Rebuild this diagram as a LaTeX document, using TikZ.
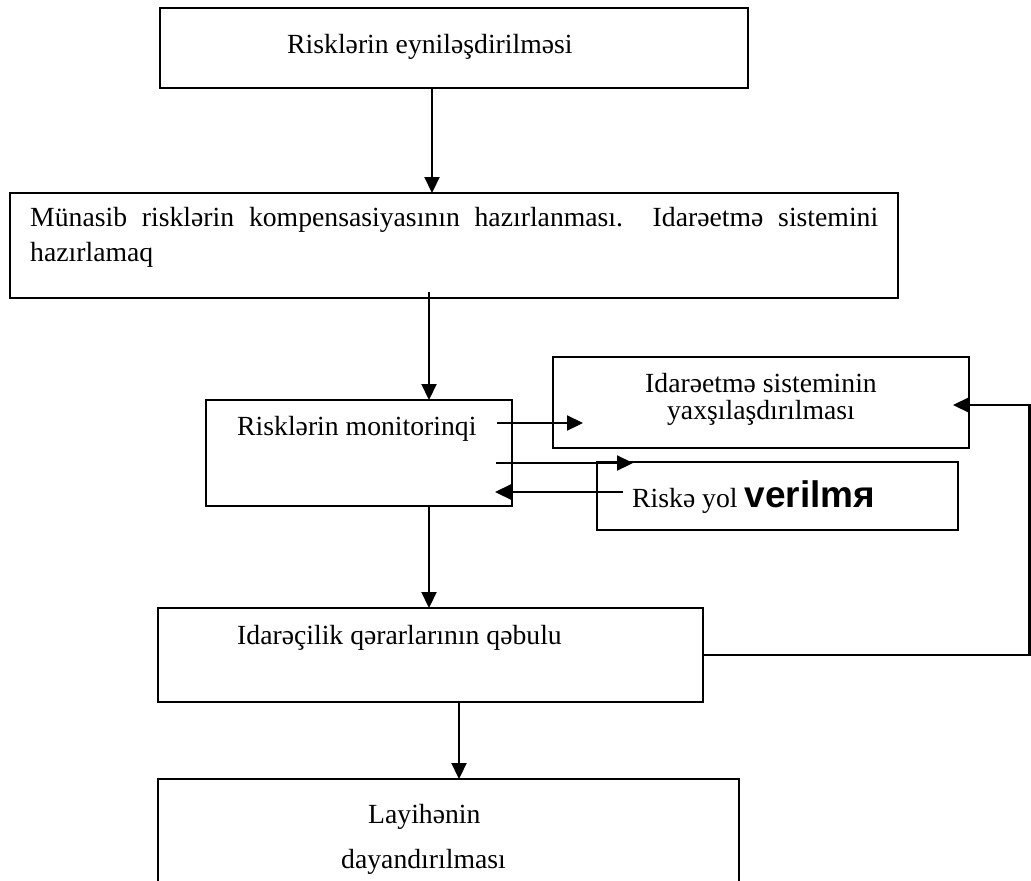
\documentclass[tikz,border=0pt]{standalone}
\usepackage{fontspec}
\setmainfont{Liberation Serif}
\newfontfamily\sansbold{Liberation Sans}
\usetikzlibrary{arrows.meta}
\begin{document}
\begin{tikzpicture}[x=1pt,y=-1pt,
  box/.style={draw=black, line width=2.2pt, rectangle, inner sep=0pt, outer sep=0pt},
  lbl/.style={inner sep=0pt, anchor=base west, font=\fontsize{27.7}{33}\selectfont},
  clbl/.style={inner sep=0pt, anchor=base, font=\fontsize{27.7}{33}\selectfont},
  arr/.style={line width=2.2pt, -{Triangle[length=16pt,width=15pt]}}]
\useasboundingbox (0,0) rectangle (1031,881);
\clip (0,0) rectangle (1031,881);
\fill[white] (0,0) rectangle (1031,881);

% boxes
\node[box, minimum width=588pt, minimum height=80pt]  (b1) at (454,48) {};
\node[box, minimum width=888pt, minimum height=105pt] (b2) at (454,245.5) {};
\node[box, minimum width=306pt, minimum height=106pt] (b3) at (359,453) {};
\node[box, minimum width=416pt, minimum height=91pt]  (b4) at (761,402.5) {};
\node[box, minimum width=361pt, minimum height=68pt]  (b5) at (777.5,496) {};
\node[box, minimum width=545pt, minimum height=94pt]  (b6) at (430.5,655) {};
\node[box, minimum width=581pt, minimum height=141pt] (b7) at (448.5,849.5) {};

% texts
\node[lbl] (t1) at (287,53) {Risklərin eyniləşdirilməsi};
\node[lbl] (t2a) at (30,226) {\makebox[848pt][s]{Münasib risklərin kompensasiyasının hazırlanması.\ \ Idarəetmə sistemini}};
\node[lbl] (t2b) at (30,261) {hazırlamaq};
\node[lbl] (t3) at (237,435) {Risklərin monitorinqi};
\node[clbl] (t4a) at (761,392) {Idarəetmə sisteminin};
\node[clbl] (t4b) at (761,419) {yaxşılaşdırılması};
\node[lbl] (t5) at (632,507) {Riskə yol {\sansbold\bfseries\fontsize{37}{42}\selectfont verilmя}};
\node[lbl] (t6) at (237,644) {Idarəçilik qərarlarının qəbulu};
\node[lbl] (t7a) at (368,823) {Layihənin};
\node[lbl] (t7b) at (341,868) {dayandırılması};

% connector rails
\coordinate (x1) at (432,0);
\coordinate (x2) at (429,0);
\coordinate (x3) at (459,0);
\coordinate (r1) at (0,423);
\coordinate (r2) at (0,463);
\coordinate (r3) at (0,492);
\coordinate (r4) at (0,405);

% main vertical flow
\draw[arr] (b1.south -| x1) -- (b2.north -| x1);
\draw[arr] ([yshift=6pt]b2.south -| x2) -- (b3.north -| x2);
\draw[arr] (b3.south -| x2) -- (b6.north -| x2);
\draw[arr] (b6.south -| x3) -- (b7.north -| x3);

% monitoring side arrows
\draw[arr] ([xshift=-15pt]b3.east |- r1) -- ([xshift=30pt]b4.west |- r1);
\draw[arr] ([xshift=-16pt]b3.east |- r2) -- ([xshift=36pt]b5.west |- r2);
\draw[arr] ([xshift=26pt]b5.west |- r3) -- ([xshift=-17pt]b3.east |- r3);

% feedback loop
\draw[arr] (b6.east) -- ++(326.5,0) |- ([xshift=-16pt]b4.east |- r4);
\end{tikzpicture}
\end{document}
